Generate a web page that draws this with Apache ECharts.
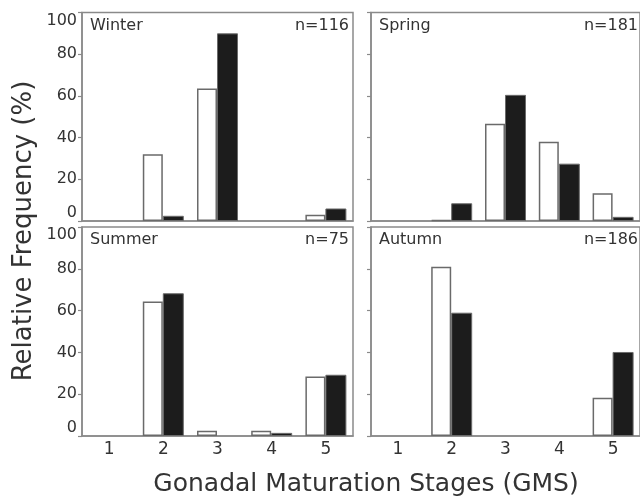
<!DOCTYPE html>
<html>
<head>
<meta charset="utf-8">
<script src="https://cdn.jsdelivr.net/npm/echarts@6/dist/echarts.min.js"></script>
<style>
html,body{margin:0;padding:0;background:#fff;}
#chart{width:640px;height:498px;}
</style>
</head>
<body>
<div id="chart"></div>
<script>
var categories = ['1', '2', '3', '4', '5'];
var yTicks = [0, 20, 40, 60, 80, 100];
var seasons = ['Winter', 'Spring', 'Summer', 'Autumn'];
var sampleSizes = ['n=116', 'n=181', 'n=75', 'n=186'];
var winterOpen   = [0, 32,   63.5, 0,   3];
var winterFilled = [0, 2.5,  90,   0,   6];
var springOpen   = [0, 0.4,  46.7, 38,  13.3];
var springFilled = [0, 8.5,  60.5, 27.5, 2];
var summerOpen   = [0, 64.4, 2.5,  2.5, 28.5];
var summerFilled = [0, 68.3, 0,    1.5, 29.3];
var autumnOpen   = [0, 81,   0,    0,   18.3];
var autumnFilled = [0, 59,   0,    0,   40.2];
var yTitle = 'Relative Frequency (%)';
var xTitle = 'Gonadal Maturation Stages (GMS)';

var openData = [winterOpen, springOpen, summerOpen, autumnOpen];
var filledData = [winterFilled, springFilled, summerFilled, autumnFilled];

function noZero(arr) {
  return arr.map(function (v) { return v === 0 ? '-' : v; });
}

var FONT = 'DejaVu Sans';
var frame = '#8a8a8a';
var grids = [
  {left: 82, top: 12.5, width: 271, height: 208.5},
  {left: 371, top: 12.5, width: 271, height: 208.5},
  {left: 82, top: 227, width: 271, height: 209},
  {left: 371, top: 227, width: 271, height: 209}
];

var option = {
  backgroundColor: '#fff',
  animation: false,
  grid: grids.map(function (g) {
    return Object.assign({show: true, borderColor: frame, borderWidth: 1.5, backgroundColor: 'transparent'}, g);
  }),
  xAxis: grids.map(function (g, i) {
    return {
      type: 'category', gridIndex: i, data: categories,
      axisLine: {show: true, lineStyle: {color: frame, width: 1.5}},
      axisTick: {show: false},
      axisLabel: {show: i >= 2, fontFamily: FONT, fontSize: 17, color: '#333', margin: 5}
    };
  }),
  yAxis: grids.map(function (g, i) {
    return {
      type: 'value', gridIndex: i, min: yTicks[0], max: yTicks[yTicks.length - 1], interval: yTicks[1] - yTicks[0],
      splitLine: {show: false},
      axisLine: {show: true, lineStyle: {color: frame, width: 1.5}},
      axisTick: {show: true, length: 4, lineStyle: {color: frame, width: 1.2}},
      axisLabel: {show: i % 2 === 0, fontFamily: FONT, fontSize: 16, color: '#333', margin: 5,
                  verticalAlignMinLabel: 'bottom', verticalAlignMaxLabel: 'top'}
    };
  }),
  title: [],
  series: [],
  graphic: [
    {type: 'text', x: 24, y: 231, rotation: Math.PI / 2,
     style: {text: yTitle, font: '26px "DejaVu Sans"', fill: '#333', align: 'center', verticalAlign: 'middle', textAlign: 'center', textVerticalAlign: 'middle'}},
    {type: 'text', x: 366, y: 484,
     style: {text: xTitle, font: '25px "DejaVu Sans"', fill: '#333', align: 'center', verticalAlign: 'middle', textAlign: 'center', textVerticalAlign: 'middle'}}
  ]
};

for (var i = 0; i < 4; i++) {
  var g = grids[i];
  option.title.push({text: seasons[i], left: g.left + 8, top: g.top + 5,
    textStyle: {fontFamily: FONT, fontSize: 16, fontWeight: 'normal', color: '#333'}, padding: 0});
  option.title.push({text: sampleSizes[i], right: 640 - (g.left + g.width) + 4, top: g.top + 5,
    textStyle: {fontFamily: FONT, fontSize: 16, fontWeight: 'normal', color: '#333'}, padding: 0});
  option.series.push({
    type: 'bar', xAxisIndex: i, yAxisIndex: i, data: noZero(openData[i]),
    barWidth: 20, barGap: '0%',
    itemStyle: {color: '#fff', borderColor: '#6a6a6a', borderWidth: 1.5}
  });
  option.series.push({
    type: 'bar', xAxisIndex: i, yAxisIndex: i, data: noZero(filledData[i]),
    barWidth: 21, barGap: '0%',
    itemStyle: {color: '#1c1c1c', borderColor: '#6a6a6a', borderWidth: 1}
  });
}

var chart = echarts.init(document.getElementById('chart'), null, {renderer: 'canvas'});
chart.setOption(option);
</script>
</body>
</html>
